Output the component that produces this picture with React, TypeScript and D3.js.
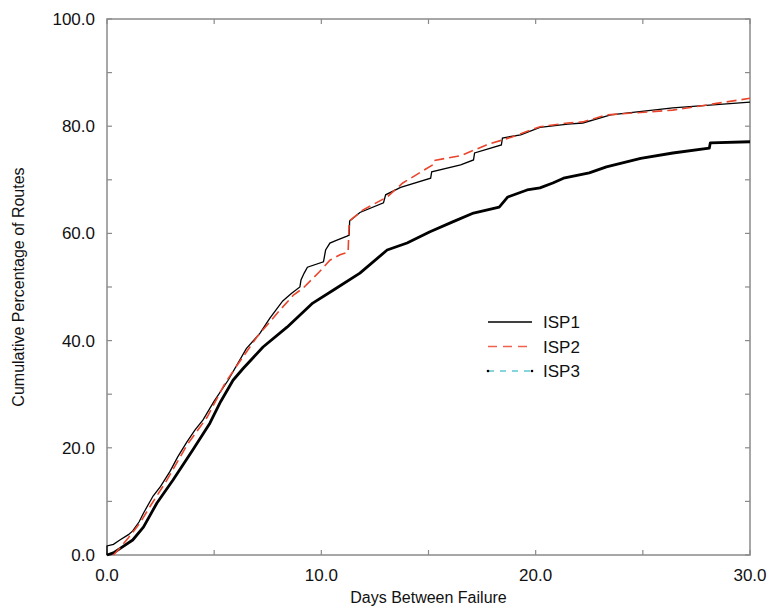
import React, { useEffect, useRef } from "react";
import * as d3 from "d3";

type Pt = [number, number];

// days between failure vs cumulative percentage
const isp1: Pt[] = [
  [0, 0], [0, 1.7], [0.3, 2.0], [0.6, 2.8], [1.0, 3.8], [1.2, 4.5], [1.5, 6.2],
  [1.7, 7.8], [2.15, 11.0], [2.5, 12.8], [2.94, 15.6], [3.3, 18.3], [3.73, 21.1],
  [4.1, 23.3], [4.48, 25.2], [5.0, 28.7], [5.65, 32.6], [6.5, 38.5], [7.14, 41.4],
  [7.6, 44.2], [8.2, 47.4], [8.6, 48.8], [9.0, 50.0], [9.05, 51.3], [9.2, 52.6],
  [9.35, 53.7], [10.1, 54.7], [10.2, 56.9], [10.4, 58.2], [10.7, 58.7], [11.2, 59.5],
  [11.3, 59.7], [11.32, 62.3], [11.8, 63.9], [12.9, 65.7], [13.0, 67.2], [13.7, 68.6],
  [15.1, 70.3], [15.15, 71.5], [16.5, 72.8], [17.1, 73.7], [17.15, 75.0], [18.4, 76.5],
  [18.45, 77.8], [19.3, 78.4], [20.2, 79.8], [21.5, 80.4], [22.2, 80.6], [23.5, 82.1],
  [26.4, 83.4], [30, 84.5],
];

const isp2: Pt[] = [
  [0.3, 0], [0.6, 1.3], [1.0, 3.2], [1.54, 6.0], [2.0, 9.0], [2.8, 14.0], [3.73, 20.5],
  [4.67, 25.7], [5.5, 32.0], [6.0, 35.0], [7.0, 40.7], [8.07, 45.7], [8.7, 48.5],
  [9.15, 49.8], [9.9, 52.8], [10.4, 55.0], [10.87, 56.0], [11.25, 56.5], [11.3, 62.3],
  [11.95, 64.4], [13.07, 66.8], [13.8, 69.4], [15.2, 72.8], [15.25, 73.6], [16.5, 74.5],
  [17.7, 76.5], [18.9, 78.0], [20.2, 79.9], [21.5, 80.6], [22.2, 80.8], [23.3, 82.1],
  [26.4, 83.0], [30, 85.2],
];

const isp3: Pt[] = [
  [0, 0], [0.3, 0.4], [0.6, 1.2], [1.2, 2.8], [1.7, 5.2], [2.33, 9.7], [3.08, 14.0],
  [4.0, 19.6], [4.8, 24.6], [5.3, 28.6], [5.88, 32.6], [6.35, 34.8], [7.28, 38.8],
  [8.4, 42.5], [9.6, 47.0], [10.55, 49.4], [11.8, 52.6], [13.07, 56.9], [14.0, 58.2],
  [15.07, 60.3], [16.1, 62.1], [17.1, 63.8], [18.3, 64.9], [18.7, 66.8], [19.6, 68.1],
  [20.2, 68.5], [20.8, 69.4], [21.3, 70.3], [22.5, 71.3], [23.3, 72.4], [24.9, 74.0],
  [26.4, 75.0], [28.1, 75.9], [28.15, 76.9], [30, 77.1],
];

const xLabels = [0, 10, 20, 30];
const yLabels = [0, 20, 40, 60, 80, 100];
const legendNames = ["ISP1", "ISP2", "ISP3"];

const App = () => {
  const ref = useRef<SVGSVGElement>(null);

  useEffect(() => {
    const svg = d3.select(ref.current).attr("width", 769).attr("height", 608);
    svg.selectAll("*").remove();

    const m = { top: 19, right: 19, bottom: 53, left: 107 };
    const W = 769, H = 608;
    const x = d3.scaleLinear().domain([0, 30]).range([m.left, W - m.right]);
    const y = d3.scaleLinear().domain([0, 100]).range([H - m.bottom, m.top]);
    const font = "'Liberation Sans', Arial, sans-serif";
    const axisColor = "#8a8a8a";

    // frame
    svg.append("rect")
      .attr("x", x(0)).attr("y", y(100))
      .attr("width", x(30) - x(0)).attr("height", y(0) - y(100))
      .attr("fill", "none").attr("stroke", axisColor).attr("stroke-width", 1.5);

    // inward ticks on every side
    const tk = 5;
    const g = svg.append("g").attr("stroke", axisColor).attr("stroke-width", 1.2);
    d3.range(0, 31, 5).forEach((t) => {
      g.append("line").attr("x1", x(t)).attr("x2", x(t)).attr("y1", y(0)).attr("y2", y(0) - tk);
      g.append("line").attr("x1", x(t)).attr("x2", x(t)).attr("y1", y(100)).attr("y2", y(100) + tk);
    });
    d3.range(0, 101, 10).forEach((t) => {
      g.append("line").attr("x1", x(0)).attr("x2", x(0) + tk).attr("y1", y(t)).attr("y2", y(t));
      g.append("line").attr("x1", x(30)).attr("x2", x(30) - tk).attr("y1", y(t)).attr("y2", y(t));
    });

    svg.selectAll(".xl").data(xLabels).join("text")
      .attr("x", (d) => x(d)).attr("y", y(0) + 26)
      .attr("text-anchor", "middle").attr("font-family", font).attr("font-size", 17)
      .attr("fill", "#111").text((d) => d.toFixed(1));

    svg.selectAll(".yl").data(yLabels).join("text")
      .attr("x", x(0) - 12).attr("y", (d) => y(d) + 6)
      .attr("text-anchor", "end").attr("font-family", font).attr("font-size", 17)
      .attr("fill", "#111").text((d) => d.toFixed(1));

    svg.append("text")
      .attr("x", (x(0) + x(30)) / 2).attr("y", 603)
      .attr("text-anchor", "middle").attr("font-family", font).attr("font-size", 16)
      .attr("fill", "#111").text("Days Between Failure");

    svg.append("text")
      .attr("transform", `translate(24,${(y(0) + y(100)) / 2}) rotate(-90)`)
      .attr("text-anchor", "middle").attr("font-family", font).attr("font-size", 16)
      .attr("fill", "#111").text("Cumulative Percentage of Routes");

    const line = d3.line<Pt>().x((d) => x(d[0])).y((d) => y(d[1]));

    svg.append("path").datum(isp3).attr("d", line)
      .attr("fill", "none").attr("stroke", "#000").attr("stroke-width", 2.8)
      .attr("stroke-linejoin", "round");
    svg.append("path").datum(isp1).attr("d", line)
      .attr("fill", "none").attr("stroke", "#000").attr("stroke-width", 1.3);
    svg.append("path").datum(isp2).attr("d", line)
      .attr("fill", "none").attr("stroke", "#e8452c").attr("stroke-width", 1.6)
      .attr("stroke-dasharray", "10,5");

    // legend
    const styles = [
      { stroke: "#000", dash: null, w: 1.3 },
      { stroke: "#f0624d", dash: "9,6", w: 1.5 },
      { stroke: "#5cc8d2", dash: "6,6", w: 1.5 },
    ];
    const lx0 = 488, lx1 = 532, ly0 = 322, dy = 24.5;
    legendNames.forEach((name, i) => {
      const ly = ly0 + i * dy;
      const s = styles[i];
      const l = svg.append("line").attr("x1", lx0).attr("x2", lx1).attr("y1", ly).attr("y2", ly)
        .attr("stroke", s.stroke).attr("stroke-width", s.w);
      if (s.dash) l.attr("stroke-dasharray", s.dash);
      if (i === 2) {
        [lx0, lx1].forEach((cx) =>
          svg.append("circle").attr("cx", cx).attr("cy", ly).attr("r", 1.3).attr("fill", "#000"));
      }
      svg.append("text").attr("x", 543).attr("y", ly + 6)
        .attr("font-family", font).attr("font-size", 17).attr("fill", "#111").text(name);
    });
  }, []);

  return <svg ref={ref} style={{ position: "absolute", left: 0, top: 0 }}></svg>;
};

export default App;
